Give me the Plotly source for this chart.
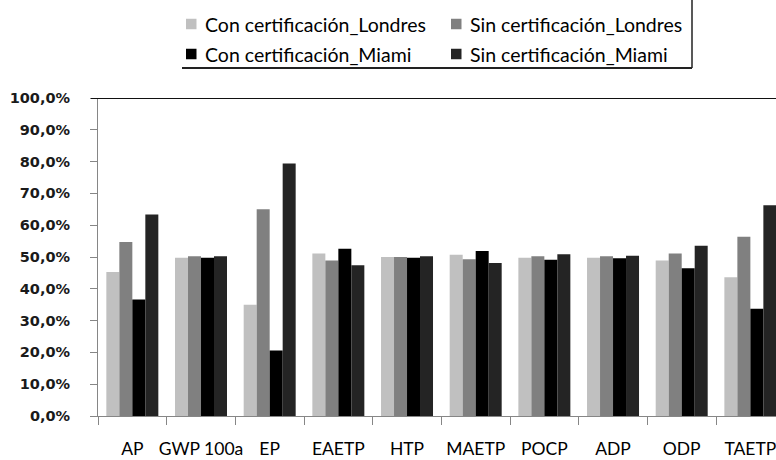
import plotly.graph_objects as go

# Impact categories and the share (%) of each scenario
categories = ["AP", "GWP 100a", "EP", "EAETP", "HTP", "MAETP", "POCP", "ADP", "ODP", "TAETP"]
con_londres = [45.3, 49.8, 35.0, 51.1, 50.0, 50.7, 49.8, 49.8, 48.9, 43.6]
sin_londres = [54.7, 50.2, 65.0, 48.9, 50.0, 49.3, 50.2, 50.2, 51.1, 56.4]
con_miami = [36.6, 49.8, 20.6, 52.6, 49.8, 51.9, 49.1, 49.6, 46.5, 33.7]
sin_miami = [63.4, 50.2, 79.4, 47.4, 50.2, 48.1, 50.9, 50.4, 53.5, 66.3]

series_names = ["Con certificación_Londres", "Sin certificación_Londres",
                "Con certificación_Miami", "Sin certificación_Miami"]
series_values = [con_londres, sin_londres, con_miami, sin_miami]
series_colors = ["#C0C0C0", "#808080", "#000000", "#242424"]

W, H = 776, 460
ML, MR, MT, MB = 98, 0, 98, 44
PW, PH = W - ML - MR, H - MT - MB
CAT_PX = 68.67  # width of one category slot in pixels


def px_x(x):
    return (x - ML) / PW


def px_y(y):
    return (H - MB - y) / PH


fig = go.Figure()
for name, vals, color in zip(series_names, series_values, series_colors):
    fig.add_trace(go.Bar(
        name=name,
        x=categories,
        y=[v / 100 for v in vals],
        marker=dict(color=color, line=dict(width=0)),
    ))

axis_grey = "#868686"
legend_font = dict(family="Lato", size=19.5, color="#000000")

fig.update_layout(
    width=W,
    height=H,
    barmode="group",
    bargap=0.243,
    bargroupgap=0,
    separators=",.",
    plot_bgcolor="white",
    paper_bgcolor="white",
    margin=dict(l=ML, r=MR, t=MT, b=MB, autoexpand=False),
    showlegend=False,
    xaxis=dict(
        type="category",
        range=[-0.5, -0.5 + PW / CAT_PX],
        showline=True,
        linecolor=axis_grey,
        linewidth=1,
        ticks="outside",
        tickson="boundaries",
        ticklen=8,
        tickcolor=axis_grey,
        showgrid=False,
        tickangle=0,
        ticklabelstandoff=17,
        tickfont=dict(family="Lato", size=17.5, color="#000000"),
    ),
    yaxis=dict(
        range=[0, 1],
        dtick=0.1,
        tickformat=".1%",
        showline=True,
        linecolor=axis_grey,
        linewidth=1,
        ticks="outside",
        ticklen=7,
        tickcolor=axis_grey,
        showgrid=False,
        zeroline=False,
        ticklabelstandoff=17,
        tickfont=dict(family="DejaVu Sans", size=14.5, color="#1a1a1a", weight="bold"),
    ),
)

# Dark rule across the top of the value axis (100 %)
fig.add_shape(
    type="line", xref="paper", yref="y",
    x0=px_x(91), x1=1, y0=1, y1=1,
    line=dict(color="#111111", width=2),
)

# Legend frame (bottom and right edges)
fig.add_shape(type="line", xref="paper", yref="paper",
              x0=px_x(182), x1=px_x(692), y0=px_y(68), y1=px_y(68),
              line=dict(color="#222222", width=2))
fig.add_shape(type="line", xref="paper", yref="paper",
              x0=px_x(692), x1=px_x(692), y0=px_y(68), y1=px_y(-2),
              line=dict(color="#222222", width=1.5))

# Legend entries: two columns, two rows
legend_cols = [186, 451]
legend_rows = [24, 54]
for i, (name, color) in enumerate(zip(series_names, series_colors)):
    cx = legend_cols[i % 2]
    cy = legend_rows[i // 2]
    fig.add_shape(type="rect", xref="paper", yref="paper",
                  x0=px_x(cx), x1=px_x(cx + 10.5),
                  y0=px_y(cy + 5.25), y1=px_y(cy - 5.25),
                  fillcolor=color, line=dict(width=0))
    fig.add_annotation(xref="paper", yref="paper",
                       x=px_x(cx + 17), y=px_y(cy),
                       xanchor="left", yanchor="middle",
                       text=name, showarrow=False, font=legend_font)

fig.write_html("out.html")
